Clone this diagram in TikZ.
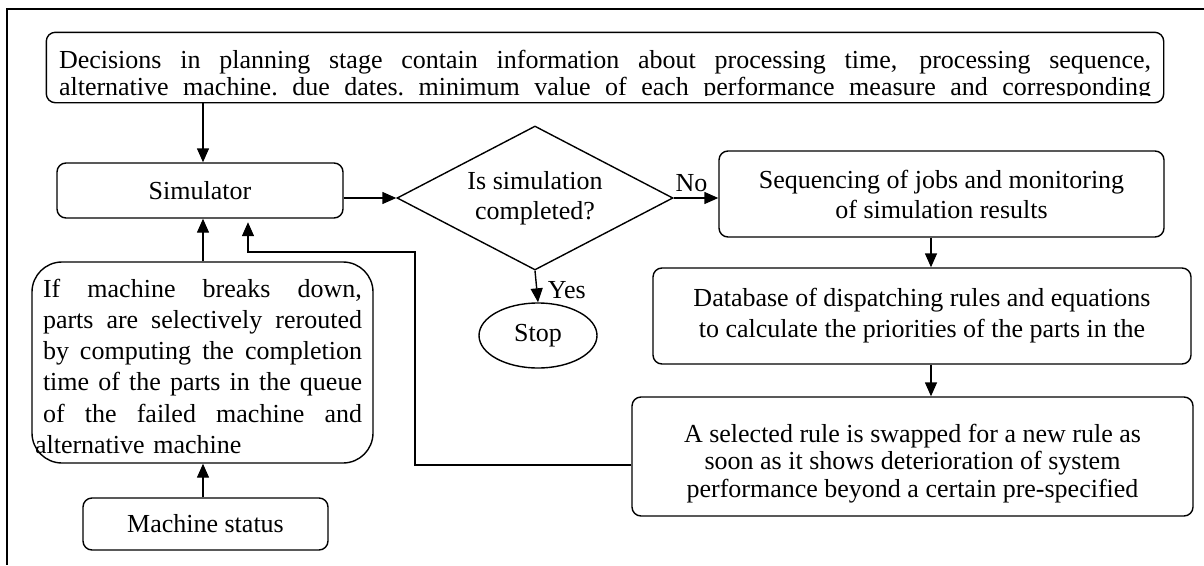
\documentclass[tikz,border=0pt]{standalone}
\usepackage{fontspec}
\setmainfont{Liberation Serif}
\usetikzlibrary{arrows.meta,shapes.geometric}
\newcommand{\jline}[2]{\leavevmode\hbox to #1{\spaceskip=.25em plus 1fil\xspaceskip=.25em plus 1fil\relax #2}}
\begin{document}
\begin{tikzpicture}[x=1pt,y=-1pt,
  every node/.style={font=\fontsize{26}{30}\selectfont},
  box/.style={draw, line width=1.4pt, rounded corners=9pt, align=center, inner sep=0pt},
  arr/.style={line width=1.4pt, -{Triangle[length=14pt,width=12pt]}},
  ln/.style={line width=1.4pt}]
\useasboundingbox (0,0) rectangle (1204,565);
% frame
\draw[ln] (1204,9) -- (7,9) -- (7,565);
% top box (text clipped at the bottom as in the original)
\begin{scope}
\clip (0,0) rectangle (1204,95.5);
\node[box, draw=none, minimum width=1116pt, minimum height=69pt, text width=1092pt, align=left,
      font=\fontsize{26}{27}\selectfont] (top) at (605,67.5)
  {\rule{0pt}{34pt}\jline{1092pt}{Decisions in planning stage contain information about processing time, processing sequence,}\\
   \jline{1092pt}{alternative machine. due dates. minimum value of each performance measure and corresponding}};
\end{scope}
\draw[ln, rounded corners=9pt] (top.south west) rectangle (top.north east);
% other nodes
\node[box, minimum width=286pt, minimum height=55pt] (sim) at (200,190.5) {Simulator};
\node[draw, line width=1.4pt, diamond, aspect=1.92, inner sep=0pt, minimum width=276pt, minimum height=144pt, align=center] (dec) at (535,198) {Is simulation\\completed?};
\node[draw, line width=1.4pt, ellipse, inner sep=0pt, minimum width=118pt, minimum height=65pt] (stop) at (538,335.5) {Stop};
\node[box, minimum width=445pt, minimum height=86pt] (seq) at (941.5,194) {Sequencing of jobs and monitoring\\of simulation results};
\node[box, minimum width=538pt, minimum height=96pt, font=\fontsize{26}{31}\selectfont] (db) at (922,316) {Database of dispatching rules and equations\\to calculate the priorities of the parts in the};
\node[box, minimum width=561pt, minimum height=119pt, font=\fontsize{26}{27.5}\selectfont] (sel) at (912.5,456.5) {\rule{0pt}{32pt}A selected rule is swapped for a new rule as\\soon as it shows deterioration of system\\performance beyond a certain pre-specified};
\node[box, rounded corners=30pt, minimum width=341pt, minimum height=201pt, text width=319pt, align=left, font=\fontsize{26}{31.2}\selectfont] (left) at (202.5,362.5)
  {\rule{0pt}{26pt}\jline{319pt}{If machine breaks down,}\\
   \jline{319pt}{parts are selectively rerouted}\\
   \jline{319pt}{by computing the completion}\\
   \jline{319pt}{time of the parts in the queue}\\
   \jline{319pt}{of the failed machine and}\\
   \hspace*{-8pt}alternative machine};
\node[box, minimum width=245pt, minimum height=52pt] (ms) at (205.5,524) {Machine status};
% helper coordinates
\coordinate (ax) at (203,0);
\coordinate (cx) at (931,0);
\coordinate (fbA) at (415,465);
\coordinate (fbB) at (248,252);
% connectors
\draw[arr] (top.south -| ax) -- (sim.north -| ax);
\draw[arr] (dec.west -| sim.east) -- (dec.west);
\draw[arr] (dec.east) -- (dec.east -| seq.west) node[pos=0.4, above=2pt] (no) {No};
\draw[arr] (dec.south) -- (stop.north) node[pos=0.6, right=7pt] (yes) {Yes};
\draw[arr] (seq.south -| cx) -- (db.north -| cx);
\draw[arr] (db.south -| cx) -- (sel.north -| cx);
\draw[arr, shorten >=3.5pt] (fbA -| sel.west) -- (fbA) |- (fbB) -- (fbB |- sim.south);
\draw[arr] (left.north -| ax) -- (sim.south -| ax);
\draw[arr] (ms.north -| ax) -- (left.south -| ax);
\end{tikzpicture}
\end{document}
